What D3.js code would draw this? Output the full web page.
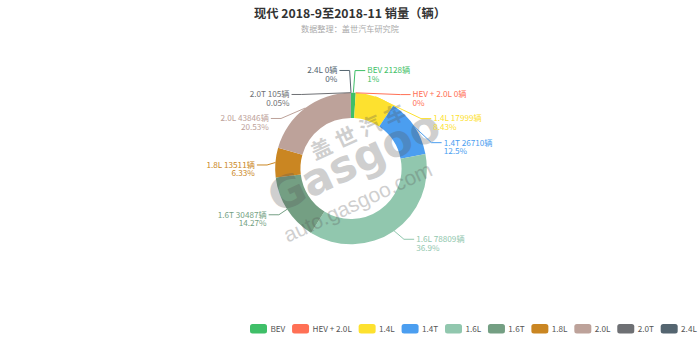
<!DOCTYPE html>
<html>
<head>
<meta charset="utf-8">
<script src="https://cdn.jsdelivr.net/npm/d3@7"></script>
<style>
body { margin: 0; background: #fff; }
svg { display: block; font-family: "Microsoft YaHei", "Noto Sans CJK SC", sans-serif; }
</style>
</head>
<body>
<svg id="chart" width="700" height="337"></svg>
<script>
// data
var names = ["BEV", "HEV + 2.0L", "1.4L", "1.4T", "1.6L", "1.6T", "1.8L", "2.0L", "2.0T", "2.4L"];
var sales = [2128, 0, 17999, 26710, 78809, 30487, 13511, 43846, 105, 0];
var colors = ["#3fbf68", "#ff7055", "#fde12f", "#4b9ef0", "#91c7ae", "#749f83", "#ca8622", "#bda29a", "#6e7074", "#546570"];
var title = "现代 2018-9至2018-11 销量（辆）";
var subtitle = "数据整理：盖世汽车研究院";

var svg = d3.select("#chart"),
    width = +svg.attr("width"),
    height = +svg.attr("height");

// the original was drawn larger and scaled down, everything is scaled by k
var k = 0.68;
var cx = width / 2 + 1,
    cy = height / 2,
    outerR = 0.45 * Math.min(width, height) / 2,
    innerR = 0.30 * Math.min(width, height) / 2;

var total = d3.sum(sales);
var data = names.map(function (n, i) { return { name: n, value: sales[i], color: colors[i] }; });

// title
svg.append("text")
    .attr("x", width / 2).attr("y", 12.5)
    .attr("text-anchor", "middle").attr("dominant-baseline", "central")
    .style("font-size", (18 * k) + "px").style("font-weight", "bold")
    .attr("fill", "#333")
    .text(title);
svg.append("text")
    .attr("x", width / 2).attr("y", 28.5)
    .attr("text-anchor", "middle").attr("dominant-baseline", "central")
    .style("font-size", (12 * k) + "px")
    .attr("fill", "#aaa")
    .text(subtitle);

// donut
var pie = d3.pie().sort(null).value(function (d) { return d.value; });
var arcs = pie(data);
var arc = d3.arc().innerRadius(innerR).outerRadius(outerR);

svg.append("g")
    .attr("transform", "translate(" + cx + "," + cy + ")")
    .selectAll("path")
    .data(arcs)
    .join("path")
    .attr("d", arc)
    .attr("fill", function (d) { return d.data.color; });

// watermark
var wm = svg.append("g")
    .attr("transform", "translate(" + cx + "," + (cy - 2) + ") rotate(-25)")
    .attr("fill", "#555")
    .attr("opacity", 0.28)
    .style("pointer-events", "none");
wm.append("text")
    .attr("x", 24).attr("y", -30)
    .attr("text-anchor", "middle").attr("dominant-baseline", "central")
    .style("font-size", "21px").style("font-weight", "bold").style("letter-spacing", "6px")
    .text("盖世汽车");
wm.append("text")
    .attr("x", 5).attr("y", -4)
    .attr("text-anchor", "middle").attr("dominant-baseline", "central")
    .style("font-family", "'DejaVu Sans', sans-serif")
    .style("font-size", "44px").style("font-weight", "bold")
    .text("Gasgoo");
wm.append("text")
    .attr("x", -9).attr("y", 35)
    .attr("text-anchor", "middle").attr("dominant-baseline", "central")
    .style("font-family", "'Liberation Sans', Arial, sans-serif")
    .style("font-size", "21px")
    .text("auto.gasgoo.com");

// labels, laid out like echarts' pie label layout
var len1 = 15 * k, len2 = 15 * k, labelH = 24;
var labels = arcs.map(function (a) {
    var mid = (a.startAngle + a.endAngle) / 2,
        dx = Math.sin(mid), dy = -Math.cos(mid);
    var x1 = cx + dx * outerR, y1 = cy + dy * outerR;
    var x2 = x1 + dx * len1, y2 = y1 + dy * len1;
    var side = dx < 0 ? -1 : 1;
    var x3 = x2 + side * len2;
    return {
        d: a.data, side: side,
        x: x3 + side * 5 * k, y: y2, height: labelH,
        pts: [[x1, y1], [x2, y2], [x3, y2]]
    };
});

function adjustSide(list, dir) {
    list.sort(function (a, b) { return a.y - b.y; });
    function shiftDown(start, end, delta) {
        for (var j = start; j < end; j++) {
            list[j].y += delta;
            if (j > start && j + 1 < end && list[j + 1].y > list[j].y + list[j].height) {
                shiftUp(j, delta / 2);
                return;
            }
        }
        shiftUp(end - 1, delta / 2);
    }
    function shiftUp(end, delta) {
        for (var j = end; j >= 0; j--) {
            list[j].y -= delta;
            if (j > 0 && list[j].y > list[j - 1].y + list[j - 1].height) break;
        }
    }
    function changeX(part, isDown) {
        var last = isDown ? Number.MAX_VALUE : 0;
        var R = outerR + len1;
        part.forEach(function (l) {
            var dY = Math.abs(l.y - cy);
            var dX = dY < R ? Math.sqrt((R + len2) * (R + len2) - dY * dY) : Math.abs(l.x - cx);
            if (isDown && dX >= last) dX = last - 10;
            if (!isDown && dX <= last) dX = last + 10;
            l.x = cx + dX * dir;
            last = dX;
        });
    }
    var lastY = 0;
    for (var i = 0; i < list.length; i++) {
        var delta = list[i].y - lastY;
        if (delta < 0) shiftDown(i, list.length, -delta);
        lastY = list[i].y + list[i].height;
    }
    if (height - lastY < 0) shiftUp(list.length - 1, lastY - height);
    changeX(list.filter(function (l) { return l.y < cy; }), false);
    changeX(list.filter(function (l) { return l.y >= cy; }), true);
}
adjustSide(labels.filter(function (l) { return l.side > 0; }), 1);
adjustSide(labels.filter(function (l) { return l.side < 0; }), -1);

labels.forEach(function (l) {
    var p = l.pts;
    p[2][0] = l.x - l.side * 3 * k;
    p[1][1] = p[2][1] = l.y;
    p[1][0] = p[2][0] - l.side * len2;
});

var lineGen = d3.line();
svg.append("g").selectAll("path")
    .data(labels)
    .join("path")
    .attr("d", function (l) { return lineGen(l.pts); })
    .attr("fill", "none")
    .attr("stroke", function (l) { return l.d.color; })
    .attr("stroke-width", 1);

var lab = svg.append("g").selectAll("text")
    .data(labels)
    .join("text")
    .attr("fill", function (l) { return l.d.color; })
    .attr("text-anchor", function (l) { return l.side > 0 ? "start" : "end"; })
    .style("font-size", (12 * k) + "px");
lab.append("tspan")
    .attr("x", function (l) { return l.x; })
    .attr("y", function (l) { return l.y; })
    .attr("dy", "0.35em")
    .text(function (l) { return l.d.name + " " + l.d.value + "辆"; });
lab.append("tspan")
    .attr("x", function (l) { return l.x; })
    .attr("y", function (l) { return l.y + 8.4; })
    .attr("dy", "0.35em")
    .text(function (l) { return +(l.d.value / total * 100).toFixed(2) + "%"; });

// legend
var swW = 25 * k, swH = 14 * k, legendY = height - 5 * k - swH / 2;
var legend = svg.append("g");
var lx = 250;
data.forEach(function (d) {
    var it = legend.append("g").attr("transform", "translate(" + lx + "," + legendY + ")");
    it.append("rect")
        .attr("x", 0).attr("y", -swH / 2)
        .attr("width", swW).attr("height", swH)
        .attr("rx", 2.5)
        .attr("fill", d.color);
    var t = it.append("text")
        .attr("x", swW + 5 * k).attr("y", 0).attr("dy", "0.35em")
        .attr("fill", "#555")
        .style("font-size", (12 * k) + "px")
        .text(d.name);
    lx += swW + 5 * k + t.node().getComputedTextLength() + 10 * k;
});
</script>
</body>
</html>
